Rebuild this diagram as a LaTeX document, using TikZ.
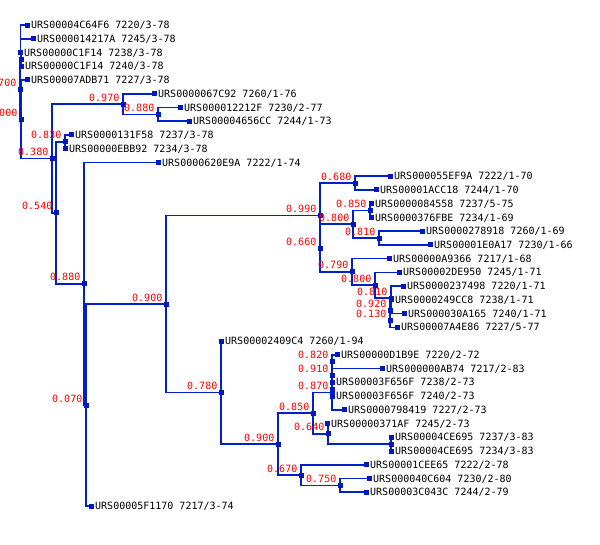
\documentclass[tikz,border=0pt]{standalone}
\usepackage{fontspec}
\usepackage{tikz}
\usetikzlibrary{backgrounds}
\newfontfamily\treefont{DejaVu Sans Mono}
\definecolor{branchblue}{RGB}{0,32,204}
\definecolor{knotblue}{RGB}{0,24,190}

\begin{document}
\begin{tikzpicture}[x=1pt,y=-1pt,
    knot/.style={fill=knotblue, minimum size=5pt, inner sep=0pt},
    leafname/.style={anchor=base west, inner sep=0pt, font=\treefont\fontsize{10}{12}\selectfont},
    support/.style={anchor=base east, inner sep=0pt, text=red, font=\treefont\fontsize{10}{12}\selectfont},
    branch/.style={draw=branchblue, line width=1.7pt}]
  \useasboundingbox (0,0) rectangle (600,544);
  % leaves, top to bottom
  \foreach \x/\t [count=\i] in {
      27/{URS00004C64F6 7220/3-78}, 33/{URS000014217A 7245/3-78},
      20/{URS00000C1F14 7238/3-78}, 21/{URS00000C1F14 7240/3-78},
      27/{URS00007ADB71 7227/3-78}, 154/{URS0000067C92 7260/1-76},
      180/{URS000012212F 7230/2-77}, 189/{URS00004656CC 7244/1-73},
      71/{URS0000131F58 7237/3-78}, 65/{URS00000EBB92 7234/3-78},
      158/{URS0000620E9A 7222/1-74}, 390/{URS000055EF9A 7222/1-70},
      376/{URS00001ACC18 7244/1-70}, 371/{URS0000084558 7237/5-75},
      371/{URS0000376FBE 7234/1-69}, 422/{URS0000278918 7260/1-69},
      430/{URS00001E0A17 7230/1-66}, 389/{URS00000A9366 7217/1-68},
      399/{URS00002DE950 7245/1-71}, 403/{URS0000237498 7220/1-71},
      391/{URS0000249CC8 7238/1-71}, 404/{URS000030A165 7240/1-71},
      397/{URS00007A4E86 7227/5-77}, 221/{URS00002409C4 7260/1-94},
      337/{URS00000D1B9E 7220/2-72}, 382/{URS000000AB74 7217/2-83},
      332/{URS00003F656F 7238/2-73}, 332/{URS00003F656F 7240/2-73},
      344/{URS0000798419 7227/2-73}, 327/{URS00000371AF 7245/2-73},
      391/{URS00004CE695 7237/3-83}, 391/{URS00004CE695 7234/3-83},
      366/{URS00001CEE65 7222/2-78}, 369/{URS000040C604 7230/2-80},
      366/{URS00003C043C 7244/2-79}, 91/{URS00005F1170 7217/3-74}} {
    \node[knot] (l\i) at (\x,{25+13.743*(\i-1)}) {};
    \node[leafname] (t\i) at ([xshift=4pt,yshift=-3.6pt]l\i.center) {\t};
  }
  % inner nodes
  \coordinate (root) at (20.5,57);
  \foreach \n/\x/\y in {
      n1/21/59.4, n700/20/89.3, n1000/21/119.2, n380/52/158.4,
      n970/123/104.0, n880a/158/114.4, n540/56/212.75, n830/65/141.8,
      n880b/84/283.7, n070/86/405.05, n900/166/304.1,
      n990/320/215.6, n680/355/183.05, n660/320/248.1, n800a/353/224.3,
      n850/370/210.55, n810a/379/238.0, n790/352/271.9, n800b/375/285.3,
      n810b/391/298.1, n920/390/310.2, n130/390/320.45,
      n780/221/392.6, n900b/278/444.15, n850b/313/413.2, n870/332/392.6,
      n910/332/375.4, n820/332/361.7, n2/332/389.15, n640/328/433.8,
      n3/391/444.15, n670/301/475.1, n750/340/485.4} {
    \node[knot] (\n) at (\x,\y) {};
  }
  \foreach \n/\v in {
      n700/0.700, n1000/1.000, n380/0.380, n970/0.970, n880a/0.880,
      n540/0.540, n830/0.830, n880b/0.880, n070/0.070, n900/0.900,
      n990/0.990, n680/0.680, n660/0.660, n800a/0.800, n850/0.850,
      n810a/0.810, n790/0.790, n800b/0.800, n810b/0.810, n920/0.920,
      n130/0.130, n780/0.780, n900b/0.900, n850b/0.850, n870/0.870,
      n910/0.910, n820/0.820, n640/0.640, n670/0.670, n750/0.750} {
    \node[support] (v-\n) at ([xshift=-3.5pt,yshift=3pt]\n.center) {\v};
  }
  \begin{scope}[on background layer]
    \fill[white] (0,0) rectangle (600,544);
    \foreach \p/\c in {
        root/l1, root/l2, root/n700, n700/n1, n700/n1000, n1/l3, n1/l4,
        n1000/l5, n1000/n380, n380/n970, n380/n540, n970/l6, n970/n880a,
        n880a/l7, n880a/l8, n540/n830, n540/n880b, n830/l9, n830/l10,
        n880b/l11, n880b/n070, n070/n900, n070/l36, n900/n990, n900/n780,
        n990/n680, n990/n660, n680/l12, n680/l13, n660/n800a, n660/n790,
        n800a/n850, n800a/n810a, n850/l14, n850/l15, n810a/l16, n810a/l17,
        n790/l18, n790/n800b, n800b/l19, n800b/n810b, n810b/l20, n810b/n920,
        n920/l21, n920/n130, n130/l22, n130/l23,
        n780/l24, n780/n900b, n900b/n850b, n900b/n670, n850b/n870, n850b/n640,
        n870/n910, n870/l29, n910/n820, n910/n2, n820/l25, n820/l26,
        n2/l27, n2/l28, n640/l30, n640/n3, n3/l31, n3/l32,
        n670/l33, n670/n750, n750/l34, n750/l35} {
      \draw[branch] (\p.center) |- (\c.center);
    }
  \end{scope}
\end{tikzpicture}
\end{document}
